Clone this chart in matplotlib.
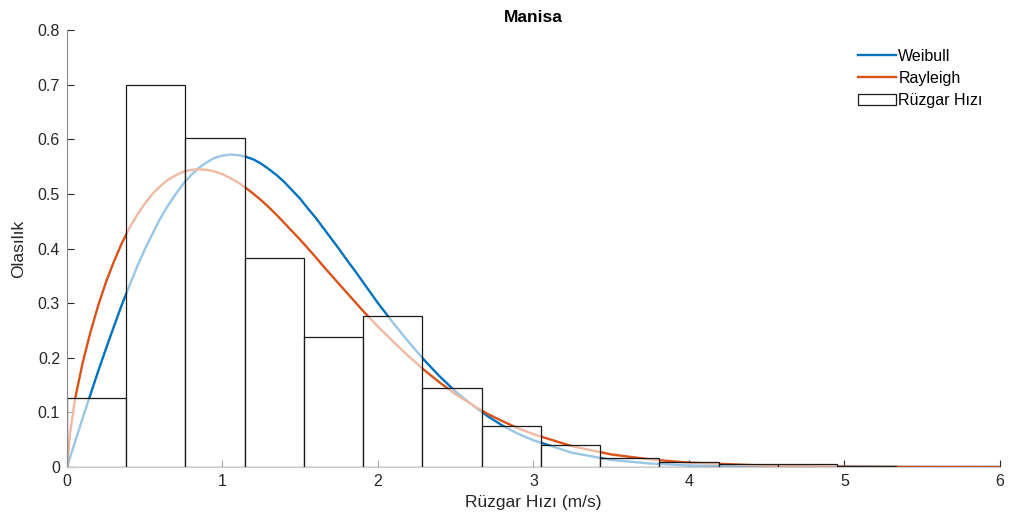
import matplotlib
matplotlib.use("Agg")
import matplotlib.pyplot as plt
from matplotlib.lines import Line2D
from matplotlib.patches import Patch

plt.rcParams['font.family'] = ['Liberation Sans', 'DejaVu Sans']

# histogram (bin width ~0.381 m/s)
bin_width = 0.381
bin_heights = [0.127, 0.700, 0.603, 0.382, 0.238, 0.276, 0.144, 0.075,
               0.040, 0.017, 0.010, 0.006, 0.006, 0.0025, 0.0008, 0.0003]

# curves
curve_x = [0, 0.02, 0.05, 0.1, 0.15, 0.2, 0.25, 0.3, 0.35, 0.4, 0.45, 0.5,
           0.55, 0.6, 0.65, 0.7, 0.75, 0.8, 0.85, 0.9, 0.95, 1.0, 1.05, 1.1,
           1.15, 1.2, 1.25, 1.3, 1.35, 1.4, 1.45, 1.5, 1.55, 1.6, 1.65, 1.7,
           1.75, 1.8, 1.85, 1.9, 1.95, 2.0, 2.1, 2.2, 2.3, 2.4, 2.5, 2.6,
           2.7, 2.8, 2.9, 3.0, 3.25, 3.5, 3.75, 4.0, 4.5, 5.0, 5.5, 6.0]
weibull = [0, 0.018, 0.044, 0.089, 0.132, 0.175, 0.216, 0.256, 0.295, 0.331,
           0.366, 0.398, 0.427, 0.455, 0.479, 0.500, 0.519, 0.535, 0.548,
           0.558, 0.566, 0.570, 0.572, 0.571, 0.568, 0.563, 0.555, 0.545,
           0.534, 0.521, 0.506, 0.491, 0.473, 0.456, 0.437, 0.418, 0.399,
           0.379, 0.360, 0.340, 0.320, 0.300, 0.263, 0.228, 0.195, 0.165,
           0.138, 0.115, 0.094, 0.076, 0.061, 0.049, 0.026, 0.013, 0.0064,
           0.0029, 0.0005, 0.0001, 0, 0]
rayleigh = [0, 0.062, 0.122, 0.190, 0.246, 0.295, 0.338, 0.375, 0.408, 0.437,
            0.461, 0.482, 0.500, 0.514, 0.526, 0.534, 0.541, 0.544, 0.545,
            0.544, 0.541, 0.536, 0.529, 0.521, 0.511, 0.500, 0.488, 0.475,
            0.461, 0.446, 0.431, 0.416, 0.400, 0.384, 0.367, 0.351, 0.335,
            0.319, 0.303, 0.287, 0.272, 0.257, 0.229, 0.202, 0.177, 0.154,
            0.133, 0.115, 0.098, 0.084, 0.071, 0.060, 0.038, 0.023, 0.014,
            0.008, 0.0024, 0.0006, 0.0001, 0]

blue = '#0072BD'
orange = '#D95319'

fig = plt.figure(figsize=(10.09, 5.31), dpi=100)
ax = fig.add_axes([0.0664, 0.1205, 0.9246, 0.823])

ax.plot(curve_x, weibull, color=blue, lw=1.7, zorder=2)
ax.plot(curve_x, rayleigh, color=orange, lw=1.7, zorder=2)

lefts = [i * bin_width for i in range(len(bin_heights))]
ax.bar(lefts, bin_heights, width=bin_width, align='edge',
       facecolor=(1, 1, 1, 0.6), edgecolor='#1a1a1a', linewidth=0.9, zorder=3)

ax.set_xlim(0, 6)
ax.set_ylim(0, 0.8)
ax.set_xticks(range(0, 7))
ax.set_yticks([i / 10 for i in range(9)])
ax.set_yticklabels(['0', '0.1', '0.2', '0.3', '0.4', '0.5', '0.6', '0.7', '0.8'])
ax.tick_params(direction='in', length=5, width=0.8, colors='#262626',
               labelsize=11.5, pad=5)

for s in ['top', 'right']:
    ax.spines[s].set_visible(False)
ax.spines['left'].set_color('#8a8a8a')
ax.spines['bottom'].set_color('#cccccc')
ax.spines['left'].set_zorder(5)
ax.spines['bottom'].set_zorder(5)

ax.set_title('Manisa', fontsize=12.5, fontweight='bold', pad=6)
ax.set_xlabel('Rüzgar Hızı (m/s)', fontsize=12.5, color='#262626', labelpad=4)
ax.set_ylabel('Olasılık', fontsize=12.5, color='#262626', labelpad=8)

handles = [Line2D([], [], color=blue, lw=1.7),
           Line2D([], [], color=orange, lw=1.7),
           Patch(facecolor='white', edgecolor='#1a1a1a', linewidth=0.9)]
ax.legend(handles, ['Weibull', 'Rayleigh', 'Rüzgar Hızı'], loc='upper right',
          bbox_to_anchor=(0.997, 0.99), frameon=False, fontsize=11.5,
          handlelength=2.4, handletextpad=0.15, labelspacing=0.45)

fig.savefig('out.png', dpi=100)
